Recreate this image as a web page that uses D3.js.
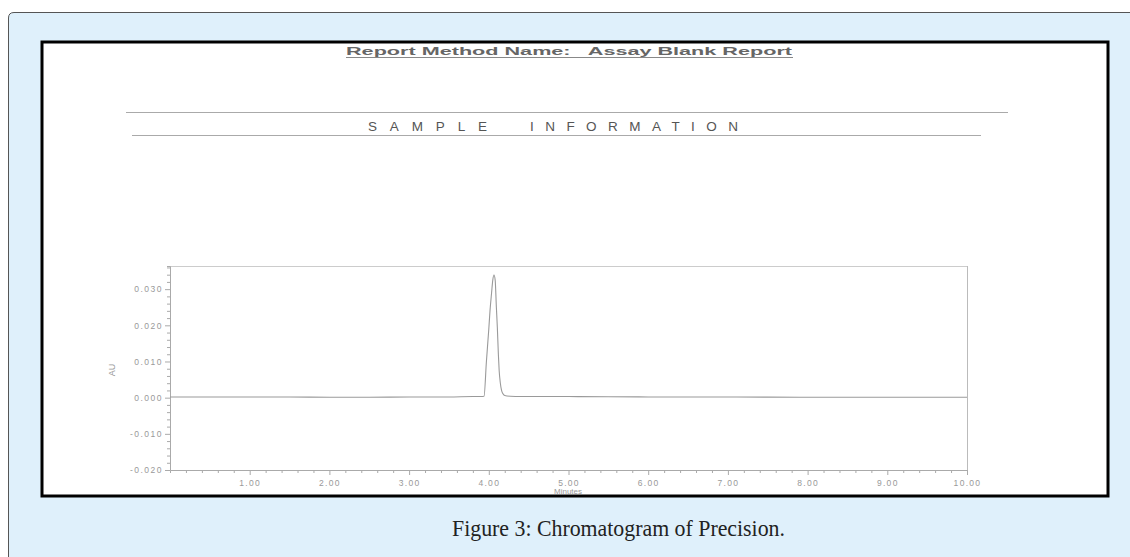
<!DOCTYPE html>
<html><head><meta charset="utf-8">
<script src="https://cdn.jsdelivr.net/npm/d3@7/dist/d3.min.js"></script>
<style>html,body{margin:0;padding:0;background:#fff;overflow:hidden} text{white-space:pre}</style>
</head><body>
<script>
// ---- data ----
const timeMin = [0, 0.5, 1, 1.5, 2, 2.5, 3, 3.5, 3.8, 3.9, 3.94, 3.97, 4.0, 4.015, 4.035, 4.05, 4.065, 4.08, 4.095, 4.107, 4.12, 4.13, 4.145, 4.16, 4.18, 4.2, 4.27, 4.4, 5, 6, 7, 8, 9, 10];
const absorbanceAU = [0.0002, 0.0002, 0.0002, 0.0002, 0.0001, 0.0001, 0.0002, 0.0002, 0.0003, 0.0003, 0.0004, 0.010, 0.019, 0.024, 0.029, 0.0325, 0.0339, 0.0325, 0.025, 0.0195, 0.012, 0.0075, 0.004, 0.002, 0.001, 0.0006, 0.0004, 0.0003, 0.0003, 0.0002, 0.0002, 0.0001, 0.0001, 0.0001];
const xTicks = [1, 2, 3, 4, 5, 6, 7, 8, 9, 10];
const yTicks = [-0.02, -0.01, 0, 0.01, 0.02, 0.03];
const headerTitle = "Report Method Name:   Assay Blank Report";
const sectionWords = ["SAMPLE", "INFORMATION"];
const xLabel = "Minutes";
const yLabel = "AU";
const caption = "Figure 3: Chromatogram of Precision.";

const W = 1130, H = 557;
const svg = d3.select("body").append("svg").attr("width", W).attr("height", H);
const sans = "Liberation Sans, Arial, sans-serif";

// outer light-blue panel
svg.append("path")
  .attr("d", "M8.5,1000 L8.5,18 Q8.5,12.5 14,12.5 L1200,12.5 L1200,1000 Z")
  .attr("fill", "#dff0fb").attr("stroke", "#555").attr("stroke-width", 1);

// inner white report box
svg.append("rect").attr("x", 42).attr("y", 42).attr("width", 1066).attr("height", 454)
  .attr("fill", "#fff").attr("stroke", "#000").attr("stroke-width", 3);

// header
svg.append("text").attr("x", 346).attr("y", 55).text(headerTitle)
  .attr("textLength", 446).attr("lengthAdjust", "spacingAndGlyphs")
  .attr("font-family", sans).attr("font-size", 11).attr("font-weight", "bold")
  .attr("fill", "#666");
svg.append("line").attr("x1", 346).attr("x2", 793).attr("y1", 57.5).attr("y2", 57.5).attr("stroke", "#888").attr("stroke-width", 1);

svg.append("line").attr("x1", 126).attr("x2", 1008).attr("y1", 112.5).attr("y2", 112.5).attr("stroke", "#aaa").attr("stroke-width", 1);
svg.append("line").attr("x1", 132).attr("x2", 981).attr("y1", 135.5).attr("y2", 135.5).attr("stroke", "#aaa").attr("stroke-width", 1);
svg.append("text").attr("x", 368).attr("y", 131).text(sectionWords[0])
  .attr("textLength", 119).attr("lengthAdjust", "spacing")
  .attr("font-family", sans).attr("font-size", 13.5).attr("fill", "#555");
svg.append("text").attr("x", 530).attr("y", 131).text(sectionWords[1])
  .attr("textLength", 208).attr("lengthAdjust", "spacing")
  .attr("font-family", sans).attr("font-size", 13.5).attr("fill", "#555");

// chart
const x = d3.scaleLinear().domain([0, 10]).range([170, 967]);
const y = d3.scaleLinear().domain([-0.02, 0.0364]).range([470, 266]);
const g = svg.append("g");
const grey = "#aaa";
const isMajorX = d => xTicks.some(t => Math.abs(t - d) < 1e-6);
const isMajorY = d => yTicks.some(t => Math.abs(t - d) < 1e-6);

// frame
g.append("line").attr("x1", x(0)).attr("x2", x(10)).attr("y1", y(0.0364) + 0.5).attr("y2", y(0.0364) + 0.5).attr("stroke", "#ccc");
g.append("line").attr("x1", x(10) + 0.5).attr("x2", x(10) + 0.5).attr("y1", y(0.0364)).attr("y2", y(-0.02)).attr("stroke", "#bbb");

const xAxis = d3.axisBottom(x).tickValues(d3.range(0.2, 10.01, 0.2)).tickSize(3)
  .tickFormat(d => isMajorX(d) ? d3.format(".2f")(d) : "");
const xg = g.append("g").attr("transform", `translate(0,${y(-0.02)})`).call(xAxis);
xg.select(".domain").attr("stroke", grey);
xg.selectAll(".tick line").attr("stroke", grey).attr("y2", d => isMajorX(d) ? 5 : 3);
xg.selectAll(".tick text").attr("fill", "#999").attr("font-size", 8.5).attr("letter-spacing", 1.3)
  .attr("font-family", sans).attr("dy", "1.15em");

const yAxis = d3.axisLeft(y).tickValues(d3.range(-0.02, 0.0361, 0.002)).tickSize(3)
  .tickFormat(d => isMajorY(d) ? d3.format(".3f")(Math.abs(d) < 1e-9 ? 0 : d).replace("\u2212", "-") : "");
const yg = g.append("g").attr("transform", `translate(${x(0)},0)`).call(yAxis);
yg.select(".domain").attr("stroke", grey);
yg.selectAll(".tick line").attr("stroke", grey).attr("x2", d => isMajorY(d) ? -5 : -3);
yg.selectAll(".tick text").attr("fill", "#999").attr("font-size", 8.5).attr("letter-spacing", 1.5)
  .attr("font-family", sans).attr("x", -7);

svg.append("text").attr("x", 568).attr("y", 494).attr("text-anchor", "middle").text(xLabel)
  .attr("font-family", sans).attr("font-size", 8).attr("fill", "#999");
svg.append("text").attr("transform", "translate(115,370) rotate(-90)").attr("text-anchor", "middle").text(yLabel)
  .attr("font-family", sans).attr("font-size", 9).attr("fill", "#999");

// trace
const pts = timeMin.map((t, i) => [t, absorbanceAU[i]]);
g.append("path").datum(pts)
  .attr("d", d3.line().x(d => x(d[0])).y(d => y(d[1])).curve(d3.curveMonotoneX))
  .attr("fill", "none").attr("stroke", "#9a9a9a").attr("stroke-width", 1.1);

// caption
svg.append("text").attr("x", 452).attr("y", 536).text(caption)
  .attr("textLength", 333).attr("lengthAdjust", "spacingAndGlyphs")
  .attr("font-family", "Liberation Serif, DejaVu Serif, serif").attr("font-size", 24).attr("fill", "#222");
</script>
</body></html>
